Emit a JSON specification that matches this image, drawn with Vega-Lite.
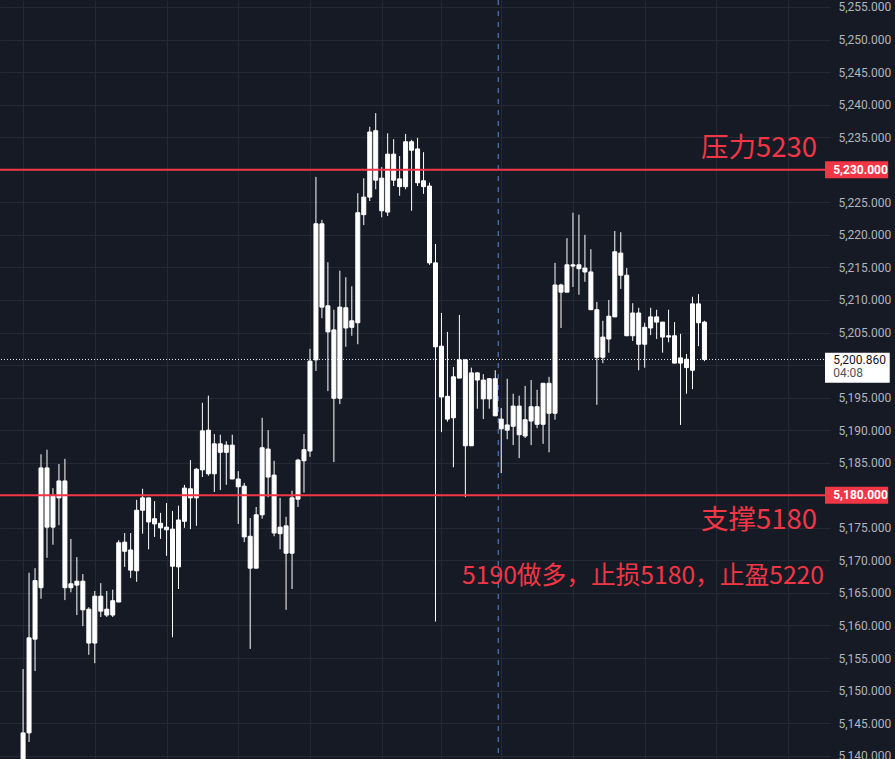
{
  "$schema": "https://vega.github.io/schema/vega-lite/v6.json",
  "width": 830,
  "height": 759,
  "autosize": {"type": "none"},
  "padding": {"left": 0, "top": 0, "right": 65, "bottom": 0},
  "background": "#161a25",
  "config": {
    "view": {"stroke": null},
    "axisX": {"grid": true, "gridColor": "#252935", "gridWidth": 1, "labels": false, "ticks": false, "domain": false, "title": null},
    "axisY": {"grid": true, "gridColor": "#252935", "gridWidth": 1, "domain": false, "ticks": false, "tickSize": 0, "labelColor": "#b2b5be", "labelFont": "Roboto", "labelFontSize": 12, "labelPadding": 8, "labelOverlap": false, "labelBound": false, "title": null}
  },
  "datasets": {
    "candles": [
      {"i":0,"o":5137,"h":5153.3,"l":5135,"c":5143.5},
      {"i":1,"o":5143.5,"h":5168.1,"l":5142.1,"c":5158.1},
      {"i":2,"o":5157.9,"h":5168.8,"l":5153.0,"c":5166.9},
      {"i":3,"o":5165.8,"h":5186.3,"l":5164.1,"c":5184.2},
      {"i":4,"o":5184.2,"h":5187.0,"l":5170.4,"c":5175.1},
      {"i":5,"o":5175.1,"h":5181.1,"l":5172.4,"c":5179.9},
      {"i":6,"o":5179.6,"h":5184.8,"l":5175.4,"c":5182.2},
      {"i":7,"o":5182.2,"h":5185.6,"l":5163.9,"c":5165.8},
      {"i":8,"o":5165.8,"h":5173.3,"l":5165.1,"c":5166.4},
      {"i":9,"o":5166.2,"h":5170.5,"l":5161.6,"c":5166.8},
      {"i":10,"o":5166.8,"h":5167.9,"l":5159.9,"c":5162.4},
      {"i":11,"o":5162.5,"h":5162.8,"l":5155.5,"c":5157.3},
      {"i":12,"o":5157.3,"h":5165.3,"l":5154.2,"c":5164.5},
      {"i":13,"o":5164.5,"h":5166.5,"l":5161.3,"c":5162.2},
      {"i":14,"o":5162.5,"h":5165.3,"l":5161.3,"c":5161.6},
      {"i":15,"o":5161.6,"h":5165.5,"l":5161.3,"c":5163.8},
      {"i":16,"o":5163.6,"h":5173.1,"l":5163.6,"c":5172.7},
      {"i":17,"o":5172.8,"h":5174.2,"l":5169.0,"c":5171.4},
      {"i":18,"o":5171.6,"h":5174.2,"l":5167.3,"c":5168.5},
      {"i":19,"o":5168.4,"h":5179.3,"l":5166.7,"c":5177.7},
      {"i":20,"o":5177.7,"h":5181.0,"l":5174.1,"c":5179.6},
      {"i":21,"o":5179.6,"h":5179.6,"l":5171.7,"c":5175.9},
      {"i":22,"o":5175.6,"h":5179.1,"l":5173.6,"c":5176.4},
      {"i":23,"o":5175.7,"h":5177.3,"l":5173.3,"c":5175.0},
      {"i":24,"o":5175.1,"h":5178.8,"l":5170.7,"c":5174.7},
      {"i":25,"o":5174.8,"h":5177.6,"l":5158.2,"c":5169.1},
      {"i":26,"o":5169.0,"h":5178.4,"l":5165.6,"c":5176.2},
      {"i":27,"o":5176.0,"h":5181.6,"l":5175.0,"c":5181.1},
      {"i":28,"o":5181.0,"h":5185.4,"l":5174.8,"c":5179.6},
      {"i":29,"o":5179.6,"h":5184.2,"l":5175.3,"c":5184.0},
      {"i":30,"o":5183.9,"h":5194.2,"l":5182.8,"c":5189.9},
      {"i":31,"o":5190.0,"h":5195.3,"l":5183.0,"c":5183.3},
      {"i":32,"o":5183.3,"h":5189.4,"l":5180.5,"c":5187.9},
      {"i":33,"o":5187.9,"h":5189.3,"l":5180.8,"c":5186.6},
      {"i":34,"o":5186.6,"h":5188.3,"l":5181.6,"c":5187.7},
      {"i":35,"o":5187.7,"h":5189.3,"l":5182.5,"c":5182.5},
      {"i":36,"o":5182.5,"h":5183.7,"l":5175.6,"c":5181.3},
      {"i":37,"o":5181.4,"h":5181.9,"l":5172.8,"c":5173.6},
      {"i":38,"o":5173.7,"h":5176.5,"l":5156.4,"c":5168.8},
      {"i":39,"o":5168.8,"h":5178.2,"l":5168.8,"c":5177.0},
      {"i":40,"o":5177.0,"h":5191.9,"l":5176.4,"c":5187.3},
      {"i":41,"o":5187.1,"h":5190.0,"l":5179.7,"c":5182.8},
      {"i":42,"o":5183.1,"h":5185.3,"l":5173.7,"c":5174.2},
      {"i":43,"o":5174.1,"h":5179.6,"l":5171.7,"c":5175.1},
      {"i":44,"o":5175.3,"h":5176.7,"l":5162.4,"c":5171.1},
      {"i":45,"o":5171.1,"h":5180.7,"l":5165.6,"c":5179.6},
      {"i":46,"o":5179.4,"h":5185.6,"l":5178.2,"c":5185.4},
      {"i":47,"o":5185.3,"h":5189.4,"l":5180.4,"c":5187.0},
      {"i":48,"o":5186.8,"h":5202.5,"l":5185.9,"c":5200.6},
      {"i":49,"o":5200.8,"h":5228.9,"l":5199.1,"c":5221.7},
      {"i":50,"o":5221.7,"h":5222.3,"l":5207.2,"c":5208.9},
      {"i":51,"o":5209.1,"h":5215.8,"l":5196.0,"c":5205.1},
      {"i":52,"o":5205.4,"h":5208.5,"l":5185.1,"c":5194.9},
      {"i":53,"o":5194.9,"h":5214.5,"l":5194.0,"c":5208.9},
      {"i":54,"o":5208.8,"h":5213.5,"l":5202.8,"c":5205.7},
      {"i":55,"o":5205.8,"h":5212.1,"l":5204.5,"c":5206.8},
      {"i":56,"o":5206.5,"h":5226.4,"l":5203.2,"c":5223.4},
      {"i":57,"o":5223.1,"h":5228.7,"l":5221.5,"c":5225.8},
      {"i":58,"o":5225.8,"h":5236.6,"l":5225.2,"c":5235.8},
      {"i":59,"o":5236.0,"h":5238.7,"l":5227.0,"c":5228.4},
      {"i":60,"o":5228.7,"h":5230.4,"l":5222.7,"c":5223.7},
      {"i":61,"o":5223.5,"h":5235.6,"l":5222.9,"c":5232.4},
      {"i":62,"o":5232.4,"h":5234.7,"l":5227.5,"c":5228.4},
      {"i":63,"o":5228.6,"h":5232.1,"l":5226.0,"c":5227.4},
      {"i":64,"o":5227.4,"h":5235.5,"l":5227.0,"c":5234.3},
      {"i":65,"o":5234.3,"h":5234.6,"l":5223.7,"c":5233.0},
      {"i":66,"o":5233.2,"h":5234.9,"l":5227.5,"c":5228.0},
      {"i":67,"o":5228.3,"h":5232.7,"l":5226.3,"c":5227.4},
      {"i":68,"o":5227.5,"h":5228.0,"l":5215.4,"c":5215.7},
      {"i":69,"o":5215.7,"h":5218.6,"l":5160.6,"c":5202.8},
      {"i":70,"o":5202.9,"h":5208.0,"l":5189.7,"c":5195.1},
      {"i":71,"o":5195.2,"h":5205.1,"l":5191.3,"c":5191.7},
      {"i":72,"o":5191.9,"h":5199.7,"l":5184.3,"c":5198.2},
      {"i":73,"o":5198.0,"h":5207.7,"l":5198.0,"c":5200.8},
      {"i":74,"o":5200.8,"h":5200.9,"l":5179.7,"c":5187.6},
      {"i":75,"o":5187.6,"h":5199.6,"l":5187.6,"c":5198.8},
      {"i":76,"o":5198.8,"h":5198.9,"l":5193.3,"c":5197.7},
      {"i":77,"o":5197.7,"h":5198.6,"l":5191.7,"c":5194.8},
      {"i":78,"o":5194.8,"h":5198.0,"l":5193.3,"c":5197.9},
      {"i":79,"o":5197.9,"h":5199.2,"l":5192.2,"c":5192.2},
      {"i":80,"o":5191.7,"h":5193.4,"l":5183.4,"c":5190.2},
      {"i":81,"o":5190.0,"h":5197.9,"l":5188.6,"c":5190.8},
      {"i":82,"o":5190.6,"h":5195.6,"l":5187.7,"c":5193.7},
      {"i":83,"o":5193.7,"h":5195.3,"l":5185.7,"c":5189.3},
      {"i":84,"o":5189.1,"h":5196.8,"l":5188.8,"c":5191.6},
      {"i":85,"o":5191.4,"h":5197.7,"l":5187.7,"c":5193.6},
      {"i":86,"o":5193.6,"h":5196.2,"l":5190.3,"c":5190.9},
      {"i":87,"o":5190.9,"h":5197.2,"l":5187.9,"c":5197.2},
      {"i":88,"o":5197.2,"h":5198.2,"l":5186.6,"c":5192.6},
      {"i":89,"o":5192.6,"h":5215.7,"l":5191.6,"c":5212.3},
      {"i":90,"o":5212.3,"h":5212.5,"l":5205.7,"c":5211.2},
      {"i":91,"o":5211.2,"h":5219.5,"l":5211.2,"c":5215.4},
      {"i":92,"o":5215.4,"h":5223.4,"l":5212.0,"c":5215.2},
      {"i":93,"o":5215.4,"h":5223.1,"l":5210.8,"c":5214.8},
      {"i":94,"o":5214.9,"h":5220.0,"l":5212.8,"c":5214.3},
      {"i":95,"o":5214.3,"h":5217.8,"l":5208.5,"c":5208.5},
      {"i":96,"o":5208.5,"h":5209.7,"l":5193.9,"c":5201.2},
      {"i":97,"o":5201.2,"h":5206.8,"l":5200.3,"c":5204.3},
      {"i":98,"o":5204.0,"h":5210.0,"l":5201.9,"c":5207.5},
      {"i":99,"o":5207.4,"h":5220.6,"l":5207.4,"c":5217.4},
      {"i":100,"o":5217.2,"h":5220.4,"l":5211.7,"c":5213.8},
      {"i":101,"o":5213.8,"h":5214.9,"l":5204.5,"c":5204.5},
      {"i":102,"o":5204.5,"h":5209.5,"l":5203.7,"c":5208.0},
      {"i":103,"o":5208.0,"h":5208.8,"l":5199.2,"c":5203.2},
      {"i":104,"o":5203.2,"h":5206.5,"l":5199.6,"c":5205.8},
      {"i":105,"o":5205.7,"h":5208.8,"l":5204.6,"c":5207.4},
      {"i":106,"o":5207.4,"h":5208.5,"l":5204.0,"c":5206.6},
      {"i":107,"o":5206.6,"h":5206.6,"l":5201.9,"c":5204.3},
      {"i":108,"o":5204.3,"h":5208.5,"l":5203.5,"c":5204.5},
      {"i":109,"o":5204.5,"h":5206.6,"l":5200.3,"c":5200.3},
      {"i":110,"o":5200.3,"h":5204.8,"l":5190.8,"c":5201.1},
      {"i":111,"o":5200.9,"h":5201.7,"l":5195.6,"c":5199.6},
      {"i":112,"o":5199.2,"h":5210.5,"l":5196.3,"c":5209.4},
      {"i":113,"o":5209.4,"h":5210.9,"l":5202.9,"c":5206.5},
      {"i":114,"o":5206.6,"h":5206.8,"l":5200.6,"c":5200.86}
    ],
    "levels": [
      {"price": 5230, "label": "5,230.000"},
      {"price": 5180, "label": "5,180.000"}
    ]
  },
  "layer": [
    {
      "data": {"name": "candles"},
      "mark": {"type": "rule", "color": "#ffffff", "strokeWidth": 1},
      "encoding": {
        "x": {"field": "i", "type": "quantitative", "title": null,
          "scale": {"domain": [-3.025, 134.17], "nice": false, "zero": false},
          "axis": {"values": [0, 12, 24, 36, 48, 60, 70, 80, 92, 104, 116, 128]}},
        "y": {"field": "l", "type": "quantitative", "title": null,
          "scale": {"domain": [5139.49, 5256.075], "nice": false, "zero": false},
          "axis": {"orient": "right", "format": ",.3f", "labelExpr": "datum.value == 5230 || datum.value == 5180 || datum.value == 5200 ? '' : datum.label", "values": [5140, 5145, 5150, 5155, 5160, 5165, 5170, 5175, 5180, 5185, 5190, 5195, 5200, 5205, 5210, 5215, 5220, 5225, 5230, 5235, 5240, 5245, 5250, 5255]}},
        "y2": {"field": "h"}
      }
    },
    {
      "data": {"values": [{"sep": 79.5}]},
      "mark": {"type": "rule", "color": "#5a8ede", "strokeWidth": 1, "strokeDash": [5, 6]},
      "encoding": {
        "x": {"field": "sep", "type": "quantitative", "title": null,
          "scale": {"domain": [-3.025, 134.17], "nice": false, "zero": false},
          "axis": {"values": [0, 12, 24, 36, 48, 60, 70, 80, 92, 104, 116, 128]}}
      }
    },
    {
      "data": {"name": "candles"},
      "mark": {"type": "bar", "size": 4, "fill": "#ffffff", "stroke": "#ffffff", "strokeWidth": 1},
      "encoding": {
        "x": {"field": "i", "type": "quantitative", "title": null,
          "scale": {"domain": [-3.025, 134.17], "nice": false, "zero": false},
          "axis": {"values": [0, 12, 24, 36, 48, 60, 70, 80, 92, 104, 116, 128]}},
        "y": {"field": "o", "type": "quantitative", "title": null,
          "scale": {"domain": [5139.49, 5256.075], "nice": false, "zero": false},
          "axis": {"orient": "right", "format": ",.3f", "labelExpr": "datum.value == 5230 || datum.value == 5180 || datum.value == 5200 ? '' : datum.label", "values": [5140, 5145, 5150, 5155, 5160, 5165, 5170, 5175, 5180, 5185, 5190, 5195, 5200, 5205, 5210, 5215, 5220, 5225, 5230, 5235, 5240, 5245, 5250, 5255]}},
        "y2": {"field": "c"}
      }
    },
    {
      "data": {"values": [{"last": 5200.86}]},
      "mark": {"type": "rule", "color": "#ffffff", "strokeWidth": 1, "strokeDash": [1, 2], "opacity": 0.9},
      "encoding": {
        "y": {"field": "last", "type": "quantitative", "title": null,
          "scale": {"domain": [5139.49, 5256.075], "nice": false, "zero": false},
          "axis": {"orient": "right", "format": ",.3f", "labelExpr": "datum.value == 5230 || datum.value == 5180 || datum.value == 5200 ? '' : datum.label", "values": [5140, 5145, 5150, 5155, 5160, 5165, 5170, 5175, 5180, 5185, 5190, 5195, 5200, 5205, 5210, 5215, 5220, 5225, 5230, 5235, 5240, 5245, 5250, 5255]}}
      }
    },
    {
      "data": {"name": "levels"},
      "mark": {"type": "rule", "color": "#f23645", "strokeWidth": 2},
      "encoding": {
        "y": {"field": "price", "type": "quantitative", "title": null,
          "scale": {"domain": [5139.49, 5256.075], "nice": false, "zero": false},
          "axis": {"orient": "right", "format": ",.3f", "labelExpr": "datum.value == 5230 || datum.value == 5180 || datum.value == 5200 ? '' : datum.label", "values": [5140, 5145, 5150, 5155, 5160, 5165, 5170, 5175, 5180, 5185, 5190, 5195, 5200, 5205, 5210, 5215, 5220, 5225, 5230, 5235, 5240, 5245, 5250, 5255]}}
      }
    },
    {
      "data": {"name": "levels"},
      "mark": {"type": "rule", "color": "#f23645", "strokeWidth": 17, "strokeCap": "butt"},
      "encoding": {
        "x": {"datum": 134.17, "type": "quantitative", "title": null,
          "scale": {"domain": [-3.025, 134.17], "nice": false, "zero": false},
          "axis": {"values": [0, 12, 24, 36, 48, 60, 70, 80, 92, 104, 116, 128]}},
        "x2": {"datum": 144.74},
        "y": {"field": "price", "type": "quantitative", "title": null,
          "scale": {"domain": [5139.49, 5256.075], "nice": false, "zero": false},
          "axis": {"orient": "right", "format": ",.3f", "labelExpr": "datum.value == 5230 || datum.value == 5180 || datum.value == 5200 ? '' : datum.label", "values": [5140, 5145, 5150, 5155, 5160, 5165, 5170, 5175, 5180, 5185, 5190, 5195, 5200, 5205, 5210, 5215, 5220, 5225, 5230, 5235, 5240, 5245, 5250, 5255]}}
      }
    },
    {
      "data": {"name": "levels"},
      "mark": {"type": "text", "color": "#ffffff", "font": "Roboto", "fontSize": 12, "fontWeight": "bold", "align": "left", "baseline": "middle"},
      "encoding": {
        "x": {"datum": 135.54, "type": "quantitative", "title": null,
          "scale": {"domain": [-3.025, 134.17], "nice": false, "zero": false},
          "axis": {"values": [0, 12, 24, 36, 48, 60, 70, 80, 92, 104, 116, 128]}},
        "y": {"field": "price", "type": "quantitative", "title": null,
          "scale": {"domain": [5139.49, 5256.075], "nice": false, "zero": false},
          "axis": {"orient": "right", "format": ",.3f", "labelExpr": "datum.value == 5230 || datum.value == 5180 || datum.value == 5200 ? '' : datum.label", "values": [5140, 5145, 5150, 5155, 5160, 5165, 5170, 5175, 5180, 5185, 5190, 5195, 5200, 5205, 5210, 5215, 5220, 5225, 5230, 5235, 5240, 5245, 5250, 5255]}},
        "text": {"field": "label"}
      }
    },
    {
      "data": {"values": [{"mid": 5199.6}]},
      "mark": {"type": "rule", "color": "#ffffff", "strokeWidth": 30, "strokeCap": "butt"},
      "encoding": {
        "x": {"datum": 134.17, "type": "quantitative", "title": null,
          "scale": {"domain": [-3.025, 134.17], "nice": false, "zero": false},
          "axis": {"values": [0, 12, 24, 36, 48, 60, 70, 80, 92, 104, 116, 128]}},
        "x2": {"datum": 145},
        "y": {"field": "mid", "type": "quantitative", "title": null,
          "scale": {"domain": [5139.49, 5256.075], "nice": false, "zero": false},
          "axis": {"orient": "right", "format": ",.3f", "labelExpr": "datum.value == 5230 || datum.value == 5180 || datum.value == 5200 ? '' : datum.label", "values": [5140, 5145, 5150, 5155, 5160, 5165, 5170, 5175, 5180, 5185, 5190, 5195, 5200, 5205, 5210, 5215, 5220, 5225, 5230, 5235, 5240, 5245, 5250, 5255]}}
      }
    },
    {
      "data": {"values": [{"label": "5,200.860", "price": 5200.78, "kind": "price"}, {"label": "04:08", "price": 5198.78, "kind": "time"}]},
      "mark": {"type": "text", "font": "Roboto", "fontSize": 12, "align": "left", "baseline": "middle"},
      "encoding": {
        "x": {"datum": 135.54, "type": "quantitative", "title": null,
          "scale": {"domain": [-3.025, 134.17], "nice": false, "zero": false},
          "axis": {"values": [0, 12, 24, 36, 48, 60, 70, 80, 92, 104, 116, 128]}},
        "y": {"field": "price", "type": "quantitative", "title": null,
          "scale": {"domain": [5139.49, 5256.075], "nice": false, "zero": false},
          "axis": {"orient": "right", "format": ",.3f", "labelExpr": "datum.value == 5230 || datum.value == 5180 || datum.value == 5200 ? '' : datum.label", "values": [5140, 5145, 5150, 5155, 5160, 5165, 5170, 5175, 5180, 5185, 5190, 5195, 5200, 5205, 5210, 5215, 5220, 5225, 5230, 5235, 5240, 5245, 5250, 5255]}},
        "color": {"field": "kind", "type": "nominal", "scale": {"domain": ["price", "time"], "range": ["#131722", "#50535e"]}, "legend": null},
        "text": {"field": "label"}
      }
    },
    {
      "data": {"values": [{"label": "压力5230", "i": 132.85, "price": 5231.96}, {"label": "支撑5180", "i": 132.85, "price": 5174.77}]},
      "mark": {"type": "text", "color": "#f23645", "font": "Noto Sans CJK SC", "fontSize": 27.5, "align": "right", "baseline": "alphabetic"},
      "encoding": {
        "x": {"field": "i", "type": "quantitative", "title": null,
          "scale": {"domain": [-3.025, 134.17], "nice": false, "zero": false},
          "axis": {"values": [0, 12, 24, 36, 48, 60, 70, 80, 92, 104, 116, 128]}},
        "y": {"field": "price", "type": "quantitative", "title": null,
          "scale": {"domain": [5139.49, 5256.075], "nice": false, "zero": false},
          "axis": {"orient": "right", "format": ",.3f", "labelExpr": "datum.value == 5230 || datum.value == 5180 || datum.value == 5200 ? '' : datum.label", "values": [5140, 5145, 5150, 5155, 5160, 5165, 5170, 5175, 5180, 5185, 5190, 5195, 5200, 5205, 5210, 5215, 5220, 5225, 5230, 5235, 5240, 5245, 5250, 5255]}},
        "text": {"field": "label"}
      }
    },
    {
      "data": {"values": [{"label": "5190做多，止损5180，止盈5220", "i": 134.0, "price": 5166.37}]},
      "mark": {"type": "text", "color": "#f23645", "font": "Noto Sans CJK SC", "fontSize": 24.7, "align": "right", "baseline": "alphabetic"},
      "encoding": {
        "x": {"field": "i", "type": "quantitative", "title": null,
          "scale": {"domain": [-3.025, 134.17], "nice": false, "zero": false},
          "axis": {"values": [0, 12, 24, 36, 48, 60, 70, 80, 92, 104, 116, 128]}},
        "y": {"field": "price", "type": "quantitative", "title": null,
          "scale": {"domain": [5139.49, 5256.075], "nice": false, "zero": false},
          "axis": {"orient": "right", "format": ",.3f", "labelExpr": "datum.value == 5230 || datum.value == 5180 || datum.value == 5200 ? '' : datum.label", "values": [5140, 5145, 5150, 5155, 5160, 5165, 5170, 5175, 5180, 5185, 5190, 5195, 5200, 5205, 5210, 5215, 5220, 5225, 5230, 5235, 5240, 5245, 5250, 5255]}},
        "text": {"field": "label"}
      }
    }
  ]
}
